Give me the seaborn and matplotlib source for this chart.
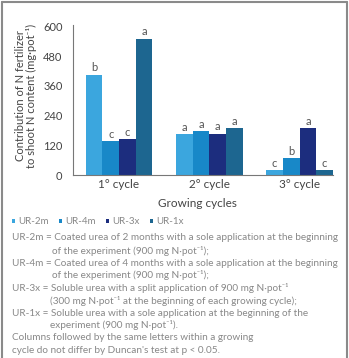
import seaborn as sns
import matplotlib.pyplot as plt
import pandas as pd
from matplotlib.lines import Line2D

# values
cycles = ["1° cycle", "2° cycle", "3° cycle"]
treatments = ["UR-2m", "UR-4m", "UR-3x", "UR-1x"]
ur_2m = [405, 164, 20]
ur_4m = [136, 178, 67]
ur_3x = [144, 167, 190]
ur_1x = [551, 190, 20]
letters = {
    "UR-2m": ["b", "a", "c"],
    "UR-4m": ["c", "a", "b"],
    "UR-3x": ["c", "a", "a"],
    "UR-1x": ["a", "a", "c"],
}
colors = ["#3ba6de", "#1888c8", "#1c2d7e", "#1d6690"]
yticks = [0, 120, 240, 360, 480, 600]

notes = [
    (12, "UR-2m = Coated urea of 2 months with a sole application at the beginning"),
    (52, "of the experiment (900 mg N·pot⁻¹);"),
    (12, "UR-4m = Coated urea of 4 months with a sole application at the beginning"),
    (52, "of the experiment (900 mg N·pot⁻¹);"),
    (12, "UR-3x = Soluble urea with a split application of 900 mg N·pot⁻¹"),
    (50, "(300 mg N·pot⁻¹ at the beginning of each growing cycle);"),
    (12, "UR-1x = Soluble urea with a sole application at the beginning of the"),
    (50, "experiment (900 mg N·pot⁻¹)."),
    (12, "Columns followed by the same letters within a growing"),
    (12, "cycle do not differ by Duncan's test at p < 0.05."),
]

df = pd.DataFrame({
    "cycle": cycles * 4,
    "treatment": [t for t in treatments for _ in cycles],
    "value": ur_2m + ur_4m + ur_3x + ur_1x,
})

sns.set_style("white")
plt.rcParams["font.family"] = ["Lato", "DejaVu Sans"]

W, H = 349, 358
fig = plt.figure(figsize=(W / 100, H / 100), dpi=100)
ax = fig.add_axes([73 / W, 1 - 175 / H, 260 / W, 150 / H])

sns.barplot(data=df, x="cycle", y="value", hue="treatment", palette=colors,
            width=0.74, saturation=1, ax=ax, linewidth=0)

for cont, t in zip(ax.containers, treatments):
    ax.bar_label(cont, labels=letters[t], padding=1, fontsize=8, color="#555555")

ax.set_xlim(-0.51, 2.37)
ax.set_ylim(0, 606)
ax.set_yticks(yticks)
ax.set_xticks([0.5, 1.5], minor=True)
ax.tick_params(axis="y", direction="inout", length=7, width=0.8, color="#777777",
               labelsize=8, labelcolor="#444444", pad=4)
ax.tick_params(axis="x", which="major", length=0, labelsize=8.5, labelcolor="#444444", pad=3)
ax.tick_params(axis="x", which="minor", direction="inout", length=7, width=0.8, color="#777777")
for side in ["top", "right"]:
    ax.spines[side].set_visible(False)
for side in ["left", "bottom"]:
    ax.spines[side].set_color("#777777")
    ax.spines[side].set_linewidth(0.8)

ax.set_xlabel("")
ax.set_ylabel("")
fig.text(197 / W, 1 - 203 / H, "Growing cycles", ha="center", va="center",
         fontsize=8.5, color="#444444")
fig.text(26 / W, 1 - 96 / H, "Contribution of N fertilizer\nto shoot N content (mg·pot⁻¹)",
         rotation=90, ha="center", va="center", multialignment="center",
         fontsize=8, color="#444444", linespacing=1.1)

handles, labels = ax.get_legend_handles_labels()
ax.get_legend().remove()
fig.legend(handles, labels, loc="center left", bbox_to_anchor=(12 / W, 1 - 222 / H),
           ncol=4, frameon=False, fontsize=7, labelcolor="#888888",
           handlelength=0.35, handleheight=0.35, handletextpad=0.25, columnspacing=1.1,
           borderpad=0, borderaxespad=0)

for i, (x, line) in enumerate(notes):
    fig.text(x / W, 1 - (238 + 12.5 * i) / H, line, ha="left", va="center",
             fontsize=7.2, color="#888888")

# grey frame around the figure
for xs, ys in [([2 / W, 2 / W], [0, 1 - 1.5 / H]),
               ([2 / W, 1 - 2 / W], [1 - 1.5 / H, 1 - 1.5 / H]),
               ([1 - 2 / W, 1 - 2 / W], [0, 1 - 1.5 / H])]:
    fig.add_artist(Line2D(xs, ys, color="#8a8a8a", linewidth=1.5))

fig.savefig("out.png", dpi=100)
